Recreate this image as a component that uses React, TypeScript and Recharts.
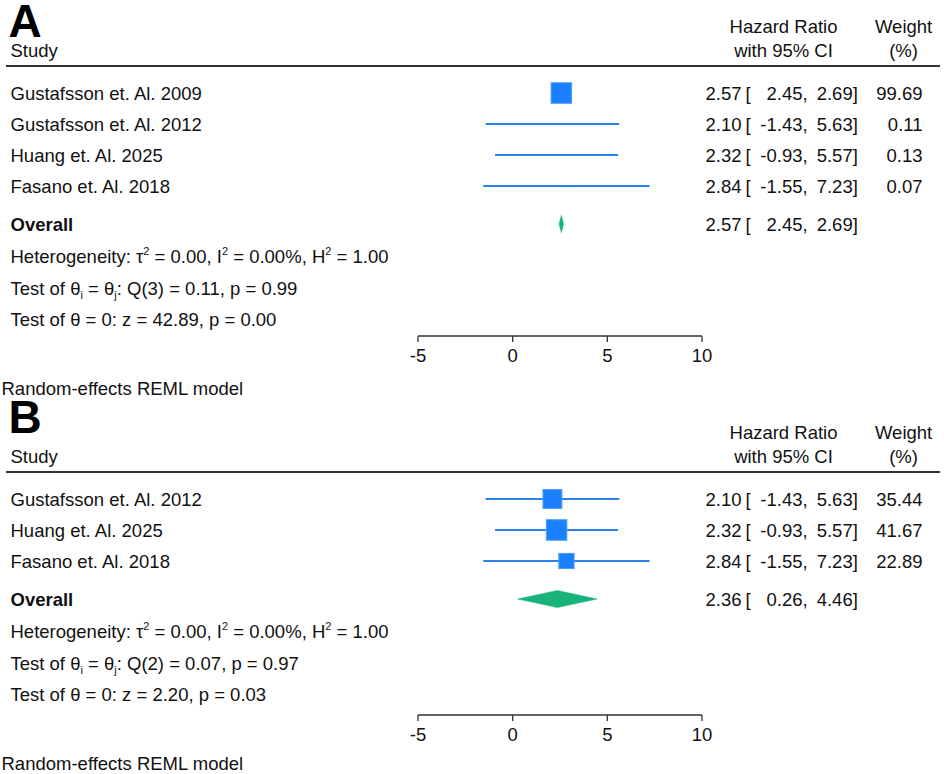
import React from "react";
import { ScatterChart, Scatter, XAxis, YAxis, ErrorBar } from "recharts";

// ---------- DATA ----------
const studiesA = ["Gustafsson et. Al. 2009", "Gustafsson et. Al. 2012", "Huang et. Al. 2025", "Fasano et. Al. 2018"];
const hrA = [2.57, 2.1, 2.32, 2.84];
const loA = [2.45, -1.43, -0.93, -1.55];
const hiA = [2.69, 5.63, 5.57, 7.23];
const weightA = [99.69, 0.11, 0.13, 0.07];
const overallA = [2.57, 2.45, 2.69];
const statsA = { tau2: "0.00", i2: "0.00%", h2: "1.00", qdf: "3", q: "0.11", qp: "0.99", z: "42.89", zp: "0.00" };

const studiesB = ["Gustafsson et. Al. 2012", "Huang et. Al. 2025", "Fasano et. Al. 2018"];
const hrB = [2.1, 2.32, 2.84];
const loB = [-1.43, -0.93, -1.55];
const hiB = [5.63, 5.57, 7.23];
const weightB = [35.44, 41.67, 22.89];
const overallB = [2.36, 0.26, 4.46];
const statsB = { tau2: "0.00", i2: "0.00%", h2: "1.00", qdf: "2", q: "0.07", qp: "0.97", z: "2.20", zp: "0.03" };

const xTicks = [-5, 0, 5, 10];
const xDomain = [-5, 10];

// ---------- LAYOUT / STYLE ----------
const W = 944;
const FONT = "'Liberation Sans', Arial, Helvetica, sans-serif";
const FS = 18.5;
const PLOT_LEFT = 418;
const PLOT_RIGHT = 702;
const ROW_H = 31;
const OVERALL_GAP = 38;
const MAX_SQ = 20.5;
const SQ_FILL = "#1a80ff";
const SQ_STROKE = "#4b9bff";
const CI_COLOR = "#2e82ec";
const DIA_COLOR = "#17b37b";
const PX_PER_UNIT = (PLOT_RIGHT - PLOT_LEFT) / (xDomain[1] - xDomain[0]);

type Cfg = {
  panelTop: number;
  height: number;
  letter: string;
  letterBase: number;
  headOffset: number;
  firstRowY: number;
  axisY: number;
  randomBase: number;
};

const cfgA: Cfg = { panelTop: 0, height: 395, letter: "A", letterBase: 36.5, headOffset: 0, firstRowY: 93, axisY: 336, randomBase: 394.5 };
const cfgB: Cfg = { panelTop: 395, height: 379, letter: "B", letterBase: 432.5, headOffset: 406, firstRowY: 499, axisY: 715, randomBase: 770 };

type PanelData = {
  studies: string[];
  hr: number[];
  lo: number[];
  hi: number[];
  weight: number[];
  overall: number[];
  stats: typeof statsA;
};

const dataA: PanelData = { studies: studiesA, hr: hrA, lo: loA, hi: hiA, weight: weightA, overall: overallA, stats: statsA };
const dataB: PanelData = { studies: studiesB, hr: hrB, lo: loB, hi: hiB, weight: weightB, overall: overallB, stats: statsB };

const overallRow = (n: number) => n + OVERALL_GAP / ROW_H;

function SquareShape(props: any) {
  const { cx, cy, payload } = props;
  if (cx == null || cy == null) return null;
  const s = Math.max(payload.side, 1.2);
  return <rect x={cx - s / 2} y={cy - s / 2} width={s} height={s} fill={SQ_FILL} stroke={SQ_STROKE} strokeWidth={s > 3 ? 1 : 0} />;
}

function DiamondShape(props: any) {
  const { cx, cy, payload } = props;
  if (cx == null || cy == null) return null;
  const l = cx - (payload.x - payload.lo) * PX_PER_UNIT;
  const r = cx + (payload.hi - payload.x) * PX_PER_UNIT;
  const h = 8.6;
  return <polygon points={`${l},${cy} ${cx},${cy - h} ${r},${cy} ${cx},${cy + h}`} fill={DIA_COLOR} stroke={DIA_COLOR} strokeWidth={0.5} />;
}

function PanelChart({ cfg, d }: { cfg: Cfg; d: PanelData }) {
  const yTop = cfg.firstRowY - ROW_H;
  const D = (cfg.axisY - yTop) / ROW_H;
  const wmax = Math.max(...d.weight);
  const pts = d.studies.map((s, i) => ({
    x: d.hr[i],
    y: i + 1,
    err: [d.hr[i] - d.lo[i], d.hi[i] - d.hr[i]],
    side: MAX_SQ * Math.sqrt(d.weight[i] / wmax),
  }));
  const ov = [{ x: d.overall[0], y: overallRow(d.studies.length), lo: d.overall[1], hi: d.overall[2] }];
  return (
    <div style={{ position: "absolute", left: 0, top: cfg.panelTop, width: W, height: cfg.height }}>
      <ScatterChart
        width={W}
        height={cfg.height}
        margin={{ top: yTop - cfg.panelTop, left: PLOT_LEFT, right: W - PLOT_RIGHT, bottom: 0 }}
      >
        <XAxis
          type="number"
          dataKey="x"
          domain={xDomain}
          ticks={xTicks}
          interval={0}
          allowDataOverflow
          height={cfg.height - (cfg.axisY - cfg.panelTop)}
          tickSize={6}
          tickMargin={7}
          axisLine={{ stroke: "#333", strokeWidth: 1.3 }}
          tickLine={{ stroke: "#333", strokeWidth: 1.3 }}
          tick={{ fill: "#111", fontSize: FS, fontFamily: FONT }}
        />
        <YAxis hide type="number" dataKey="y" domain={[0, D]} reversed allowDataOverflow />
        <Scatter data={pts} shape={SquareShape} isAnimationActive={false}>
          <ErrorBar dataKey="err" direction="x" width={0} stroke={CI_COLOR} strokeWidth={2} isAnimationActive={false} />
        </Scatter>
        <Scatter data={ov} shape={DiamondShape} isAnimationActive={false} />
      </ScatterChart>
    </div>
  );
}

function Sup({ t }: { t: string }) {
  return (
    <>
      <tspan fontSize={11} dy={-8}>{t}</tspan>
      <tspan dy={8}> </tspan>
    </>
  );
}

function PanelText({ cfg, d }: { cfg: Cfg; d: PanelData }) {
  const o = cfg.headOffset;
  const base = (y: number) => y + 6.6;
  const rowY = (r: number) => cfg.firstRowY + (r - 1) * ROW_H;
  const n = d.studies.length;
  const ovY = rowY(overallRow(n));
  const statY = [ovY + 32, ovY + 64, ovY + 95];
  const f = (v: number) => v.toFixed(2);
  const ciText = (y: number, est: number, lo: number, hi: number, key: string) => (
    <g key={key}>
      <text x={741.5} y={base(y)} textAnchor="end">{f(est)}</text>
      <text x={745.5} y={base(y)}>[</text>
      <text x={802.5} y={base(y)} textAnchor="end">{f(lo)}</text>
      <text x={802.5} y={base(y)}>,</text>
      <text x={852.7} y={base(y)} textAnchor="end">{f(hi)}</text>
      <text x={852.7} y={base(y)}>]</text>
    </g>
  );
  return (
    <g fontFamily={FONT} fontSize={FS} fill="#111">
      <text x={8.5} y={cfg.letterBase} fontSize={46} fontWeight="bold" fill="#000">{cfg.letter}</text>
      <text x={10.5} y={57.3 + o}>Study</text>
      <text x={783.5} y={32.7 + o} textAnchor="middle">Hazard Ratio</text>
      <text x={783.5} y={57.3 + o} textAnchor="middle">with 95% CI</text>
      <text x={903.6} y={32.7 + o} textAnchor="middle">Weight</text>
      <text x={903.6} y={57.3 + o} textAnchor="middle">(%)</text>
      <line x1={6} x2={940} y1={66 + o} y2={66 + o} stroke="#333" strokeWidth={2} />
      {d.studies.map((s, i) => (
        <g key={s}>
          <text x={10.5} y={base(rowY(i + 1))}>{s}</text>
          {ciText(rowY(i + 1), d.hr[i], d.lo[i], d.hi[i], "ci" + i)}
          <text x={922.5} y={base(rowY(i + 1))} textAnchor="end">{f(d.weight[i])}</text>
        </g>
      ))}
      <text x={10.5} y={base(ovY)} fontWeight="bold">Overall</text>
      {ciText(ovY, d.overall[0], d.overall[1], d.overall[2], "ov")}
      <text x={10.5} y={base(statY[0])}>
        Heterogeneity: τ<Sup t="2" />= {d.stats.tau2}, I<Sup t="2" />= {d.stats.i2}, H<Sup t="2" />= {d.stats.h2}
      </text>
      <text x={10.5} y={base(statY[1])}>
        Test of θ<tspan fontSize={11} dy={4}>i</tspan><tspan dy={-4}> = θ</tspan><tspan fontSize={11} dy={4}>j</tspan><tspan dy={-4}>: Q({d.stats.qdf}) = {d.stats.q}, p = {d.stats.qp}</tspan>
      </text>
      <text x={10.5} y={base(statY[2])}>
        Test of θ = 0: z = {d.stats.z}, p = {d.stats.zp}
      </text>
      <text x={1.5} y={cfg.randomBase}>Random-effects REML model</text>
    </g>
  );
}

export default function App() {
  return (
    <div style={{ position: "absolute", left: 0, top: 0, width: W, height: 774, background: "#fff", overflow: "hidden" }}>
      <PanelChart cfg={cfgA} d={dataA} />
      <PanelChart cfg={cfgB} d={dataB} />
      <svg width={W} height={774} style={{ position: "absolute", left: 0, top: 0, pointerEvents: "none" }}>
        <PanelText cfg={cfgA} d={dataA} />
        <PanelText cfg={cfgB} d={dataB} />
      </svg>
    </div>
  );
}
